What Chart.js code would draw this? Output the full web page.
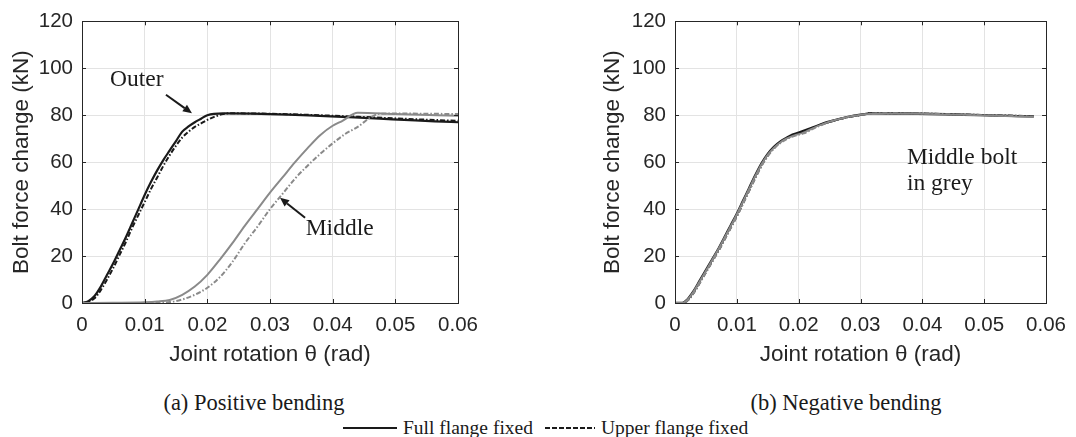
<!DOCTYPE html>
<html><head><meta charset="utf-8">
<script src="https://cdn.jsdelivr.net/npm/chart.js@4/dist/chart.umd.min.js"></script>
<style>
html,body{margin:0;padding:0;background:#fff;width:1076px;height:437px;overflow:hidden;position:relative;}
#wrapA{position:absolute;left:0;top:0;width:490px;height:375px;}
#wrapB{position:absolute;left:590px;top:0;width:486px;height:375px;}
.cap{position:absolute;top:390px;font-family:"Liberation Serif",serif;font-size:22.5px;color:#1a1a1a;white-space:nowrap;transform:translateX(-50%);line-height:26px;}
#legend{position:absolute;top:417px;left:343px;height:22px;display:flex;align-items:center;font-family:"Liberation Serif",serif;font-size:19.5px;color:#1a1a1a;white-space:nowrap;}
#legend svg{display:block;}
</style>
</head><body>
<div id="wrapA"><canvas id="cA" width="490" height="375"></canvas></div>
<div id="wrapB"><canvas id="cB" width="486" height="375"></canvas></div>
<div class="cap" style="left:254px;">(a) Positive bending</div>
<div class="cap" style="left:846px;">(b) Negative bending</div>
<div id="legend">
  <svg width="54" height="4"><line x1="0" y1="2" x2="54" y2="2" stroke="#1a1a1a" stroke-width="2"/></svg>
  <span style="margin-left:6px;">Full flange fixed</span>
  <svg width="50" height="4" style="margin-left:12px;"><line x1="0" y1="2" x2="50" y2="2" stroke="#1a1a1a" stroke-width="2" stroke-dasharray="5,2"/></svg>
  <span style="margin-left:6px;">Upper flange fixed</span>
</div>
<script>
// ---------- Data ----------
const xTicks = [0, 0.01, 0.02, 0.03, 0.04, 0.05, 0.06];
const yTicks = [0, 20, 40, 60, 80, 100, 120];

// (a) Positive bending
const posOuterFullX  = [0,0.001,0.002,0.003,0.004,0.005,0.006,0.007,0.008,0.009,0.010,0.011,0.012,0.013,0.014,0.015,0.016,0.017,0.018,0.019,0.020,0.0225,0.06];
const posOuterFullY  = [0,0.8,3,7,12,17,22.5,28,34,40,46,51.5,56.5,61,65,69,73,75.2,77,78.5,80,80.8,77];
const posOuterUpperX = [0,0.001,0.002,0.003,0.004,0.005,0.006,0.007,0.008,0.009,0.010,0.011,0.012,0.013,0.014,0.015,0.016,0.017,0.018,0.019,0.020,0.021,0.0225,0.0235,0.06];
const posOuterUpperY = [0,0.5,2,5.5,10,15,20.5,26,32,37.5,43,48.5,53.5,58.5,63,67,70.5,73,75,76.5,78,79.2,80.5,80.8,77.6];
const posMidFullX    = [0,0.005,0.010,0.012,0.014,0.016,0.018,0.020,0.022,0.024,0.026,0.028,0.030,0.032,0.034,0.036,0.038,0.040,0.0415,0.044,0.050,0.060];
const posMidFullY    = [0,0.1,0.3,0.6,1.3,3.5,7,12,18.5,25.5,33,40,47,53.5,60,66,71.5,75.5,77.5,81,80.5,79.8];
const posMidUpperX   = [0,0.010,0.014,0.016,0.018,0.020,0.022,0.024,0.026,0.028,0.030,0.032,0.034,0.036,0.038,0.040,0.042,0.044,0.046,0.0475,0.050,0.060];
const posMidUpperY   = [0,0,0.4,1.5,3.5,6.5,11,17.5,25.5,32.5,40,46.5,53,58.5,63.5,68,72,75,79,80.6,80.7,80.5];

// (b) Negative bending
const negOuterFullX  = [0,0.0012,0.002,0.003,0.004,0.005,0.006,0.007,0.008,0.009,0.010,0.011,0.012,0.013,0.014,0.015,0.016,0.017,0.018,0.019,0.020,0.022,0.024,0.026,0.028,0.030,0.032,0.058];
const negOuterFullY  = [0,0,1.5,5,9.5,14,18.5,23,28,33,38,43.5,49,54.5,59.5,63.5,66.5,68.7,70.3,71.7,72.6,74.5,76.5,78,79.3,80.2,80.8,79.5];
const negOuterUpperX = [0,0.0014,0.0022,0.0032,0.0042,0.0052,0.0062,0.0072,0.0082,0.0092,0.0102,0.0112,0.0122,0.0132,0.0142,0.0152,0.0162,0.0172,0.0182,0.0192,0.0202,0.022,0.024,0.026,0.028,0.030,0.032,0.058];
const negOuterUpperY = [0,0,1.5,5,9.5,14,18.5,23,28,33,38,43.5,49,54.5,59.5,63.5,66.5,68.7,70.3,71.6,72.5,74.3,76.3,77.9,79.2,80.1,80.9,79.6];
const negMidFullX    = [0,0.0012,0.002,0.003,0.004,0.005,0.006,0.007,0.008,0.009,0.010,0.011,0.012,0.013,0.014,0.015,0.016,0.017,0.018,0.0193,0.0205,0.023,0.025,0.027,0.029,0.031,0.033,0.058];
const negMidFullY    = [0,0,1.4,4.9,9.3,13.8,18.3,22.9,27.8,32.8,37.8,43.3,48.8,54.2,59.2,63.2,66.2,68.4,70,71.4,72.3,75.3,77.3,78.7,79.8,80.5,80.8,79.3];
const negMidUpperX   = [0,0.0014,0.0022,0.0032,0.0042,0.0052,0.0062,0.0072,0.0082,0.0092,0.0102,0.0112,0.0122,0.0132,0.0142,0.0152,0.0162,0.0172,0.0182,0.0195,0.0208,0.023,0.025,0.027,0.029,0.031,0.033,0.058];
const negMidUpperY   = [0,0,1.4,4.9,9.3,13.8,18.3,22.9,27.8,32.8,37.8,43.3,48.8,54.2,59.2,63.2,66.2,68.4,70,71.3,72.2,75,77.1,78.6,79.7,80.5,80.9,79.5];

// Annotations (data units)
const annotA = {
  texts: [{x:0.00447, y:95, text:'Outer'}, {x:0.0357, y:31.7, text:'Middle'}],
  arrows: [{x1:0.0134, y1:88.7, x2:0.01755, y2:80.8}, {x1:0.0356, y1:36.3, x2:0.0316, y2:44.8}]
};
const annotB = {
  texts: [{x:0.0375, y:61.7, text:'Middle bolt'}, {x:0.0375, y:50.7, text:'in grey'}],
  arrows: []
};

// ---------- Helpers ----------
const BLACK = '#1a1a1a', GREY = '#8a8a8a';
const DASHDOT = [5,2,1.5,2];
function pts(xs, ys){ return xs.map((x,i)=>({x:x, y:ys[i]})); }
function ds(xs, ys, color, dash, width){
  return {data: pts(xs, ys), borderColor: color, borderWidth: width, borderDash: dash,
          pointRadius: 0, fill: false, cubicInterpolationMode: 'monotone'};
}

const framePlugin = {
  id: 'frame',
  afterDatasetsDraw(chart){
    const {ctx, chartArea: a, scales} = chart;
    ctx.save();
    ctx.strokeStyle = '#262626';
    ctx.lineWidth = 1;
    ctx.strokeRect(Math.round(a.left)+0.5, Math.round(a.top)+0.5, Math.round(a.right-a.left), Math.round(a.bottom-a.top));
    ctx.beginPath();
    xTicks.forEach(v => {
      const px = Math.round(scales.x.getPixelForValue(v))+0.5;
      ctx.moveTo(px, a.top); ctx.lineTo(px, a.top+4);
      ctx.moveTo(px, a.bottom); ctx.lineTo(px, a.bottom-4);
    });
    yTicks.forEach(v => {
      const py = Math.round(scales.y.getPixelForValue(v))+0.5;
      ctx.moveTo(a.left, py); ctx.lineTo(a.left+4, py);
      ctx.moveTo(a.right, py); ctx.lineTo(a.right-4, py);
    });
    ctx.stroke();
    ctx.restore();
  }
};

const annotPlugin = {
  id: 'annot',
  afterDraw(chart, args, opts){
    const {ctx, scales} = chart;
    const an = opts.data; if (!an) return;
    ctx.save();
    ctx.fillStyle = '#1a1a1a';
    ctx.font = '23.5px "Liberation Serif", serif';
    ctx.textBaseline = 'middle';
    ctx.textAlign = 'left';
    an.texts.forEach(t => ctx.fillText(t.text, scales.x.getPixelForValue(t.x), scales.y.getPixelForValue(t.y)));
    an.arrows.forEach(r => {
      const x1 = scales.x.getPixelForValue(r.x1), y1 = scales.y.getPixelForValue(r.y1);
      const x2 = scales.x.getPixelForValue(r.x2), y2 = scales.y.getPixelForValue(r.y2);
      const ang = Math.atan2(y2-y1, x2-x1);
      const hl = 9, hw = 4;
      const bx = x2 - hl*Math.cos(ang), by = y2 - hl*Math.sin(ang);
      ctx.strokeStyle = '#1a1a1a'; ctx.lineWidth = 2;
      ctx.beginPath(); ctx.moveTo(x1,y1); ctx.lineTo(bx,by); ctx.stroke();
      ctx.beginPath();
      ctx.moveTo(x2,y2);
      ctx.lineTo(bx + hw*Math.sin(ang), by - hw*Math.cos(ang));
      ctx.lineTo(bx - hw*Math.sin(ang), by + hw*Math.cos(ang));
      ctx.closePath(); ctx.fill();
    });
    ctx.restore();
  }
};

function makeChart(id, datasets, yAxisWidth, padRight, titlePadTop, annot){
  const tickFont = {family: '"Liberation Sans", Arial, sans-serif', size: 20.5};
  const titleFont = {family: '"Liberation Sans", Arial, sans-serif', size: 22.5};
  return new Chart(document.getElementById(id), {
    type: 'line',
    data: {datasets: datasets},
    plugins: [framePlugin, annotPlugin],
    options: {
      responsive: false, animation: false, devicePixelRatio: 1,
      layout: {padding: {left: 0, right: padRight, top: 19, bottom: 7}},
      plugins: {legend: {display: false}, tooltip: {enabled: false}, annot: {data: annot}},
      scales: {
        x: {
          type: 'linear', min: 0, max: 0.06,
          afterBuildTicks: s => { s.ticks = xTicks.map(v => ({value: v})); },
          afterFit: s => { s.height = 65; },
          grid: {color: '#e3e3e3', lineWidth: 1, drawTicks: false},
          border: {display: false},
          ticks: {font: tickFont, color: '#262626', padding: 10, maxRotation: 0,
                  callback: v => v === 0 ? '0' : Number(v).toFixed(2)},
          title: {display: true, text: 'Joint rotation θ (rad)', color: '#262626',
                  font: titleFont, padding: {top: 0, bottom: 0}}
        },
        y: {
          type: 'linear', min: 0, max: 120,
          afterBuildTicks: s => { s.ticks = yTicks.map(v => ({value: v})); },
          afterFit: s => { s.width = yAxisWidth; },
          grid: {color: '#e3e3e3', lineWidth: 1, drawTicks: false},
          border: {display: false},
          ticks: {font: tickFont, color: '#262626', padding: 9},
          title: {display: true, text: 'Bolt force change (kN)', color: '#262626',
                  font: titleFont, padding: {top: titlePadTop, bottom: 0}}
        }
      }
    }
  });
}

makeChart('cA', [
  ds(posMidFullX, posMidFullY, GREY, [], 2),
  ds(posMidUpperX, posMidUpperY, GREY, DASHDOT, 2),
  ds(posOuterUpperX, posOuterUpperY, BLACK, DASHDOT, 2),
  ds(posOuterFullX, posOuterFullY, BLACK, [], 2.2)
], 82, 32, 8.5, annotA);

makeChart('cB', [
  ds(negMidFullX, negMidFullY, GREY, [], 1.8),
  ds(negMidUpperX, negMidUpperY, GREY, DASHDOT, 1.8),
  ds(negOuterUpperX, negOuterUpperY, BLACK, DASHDOT, 2),
  ds(negOuterFullX, negOuterFullY, BLACK, [], 2.4)
], 85, 25, 9.5, annotB);
</script>
</body></html>
